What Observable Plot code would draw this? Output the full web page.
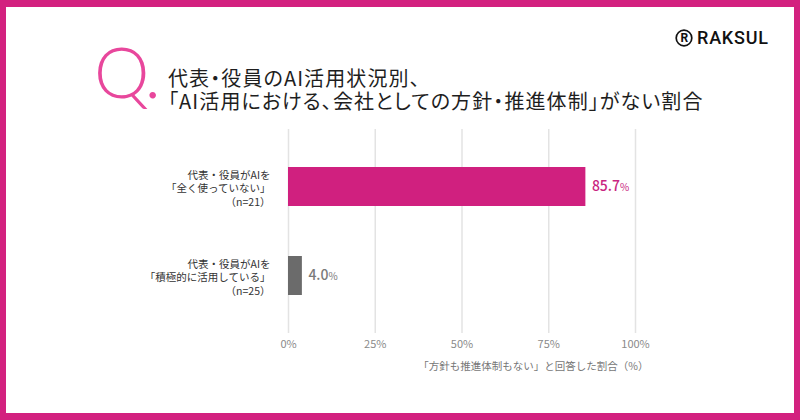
<!DOCTYPE html>
<html lang="ja">
<head>
<meta charset="utf-8">
<script src="https://cdn.jsdelivr.net/npm/d3@7"></script>
<script src="https://cdn.jsdelivr.net/npm/@observablehq/plot@0.6"></script>
<style>
  html, body { margin: 0; padding: 0; background: #fff; }
  #card { position: relative; width: 800px; height: 420px; background: #d3217f; overflow: hidden;
          font-family: "Noto Sans CJK JP", "Noto Sans", sans-serif; }
  #sheet { position: absolute; left: 6px; top: 7px; width: 788px; height: 406px; background: #fff; }
  #q { position: absolute; left: 94px; top: 36px; font-family: Lato, "Open Sans", sans-serif; font-weight: 300;
       font-size: 70px; line-height: 1; color: #e8479c; letter-spacing: -3px; }
  #title { position: absolute; left: 168px; top: 66px; font-size: 20px; line-height: 23px; font-weight: 400;
           color: #1e1e1e; white-space: nowrap; font-feature-settings: "palt" 1; letter-spacing: 1.1px; }
  #logo { position: absolute; left: 675px; top: 27px; display: flex; align-items: center; gap: 4px; }
  #logo span { font-family: Roboto, "Liberation Sans", sans-serif; font-weight: 500; font-size: 18px;
               letter-spacing: 0.8px; color: #111; }
  #chart { position: absolute; left: 0; top: 120px; }
</style>
</head>
<body>
<div id="card">
  <div id="sheet"></div>
  <div id="q">Q.</div>
  <div id="title">代表・役員のAI活用状況別、<br>「AI活用における、会社としての方針・推進体制」がない割合</div>
  <div id="logo">
    <svg width="18" height="18" viewBox="0 0 18 18">
      <circle cx="9" cy="9" r="7.8" fill="none" stroke="#111" stroke-width="1.7"/>
      <text x="9.4" y="13.4" text-anchor="middle" font-family="Roboto, sans-serif" font-weight="700" font-size="12" fill="#111">R</text>
    </svg>
    <span>RAKSUL</span>
  </div>
  <div id="chart"></div>
</div>
<script>
// Respondent groups (y categories) and the share answering "no policy and no promotion structure"
const groups = [
  "代表・役員がAIを\n「全く使っていない」\n（n=21）",
  "代表・役員がAIを\n「積極的に活用している」\n（n=25）"
];
const shares = [85.7, 4.0];
const xTicks = [0, 25, 50, 75, 100];
const xTitle = "「方針も推進体制もない」と回答した割合（%）";

const rows = groups.map((group, i) => ({group, share: shares[i]}));

const chart = Plot.plot({
  width: 800,
  height: 260,
  marginLeft: 288,
  marginRight: 165,
  marginTop: 9,
  marginBottom: 47,
  style: {fontFamily: "'Noto Sans CJK JP', 'Noto Sans', sans-serif", fontSize: "11px", color: "#333", background: "transparent"},
  x: {domain: [0, 100]},
  y: {domain: groups, paddingInner: 0.567, paddingOuter: 0.417, axis: null},
  color: {domain: groups, range: ["#d0207f", "#6b6b6b"]},
  marks: [
    Plot.ruleX(xTicks, {stroke: "#e3e3e3", strokeWidth: 1.5}),
    Plot.barX(rows, {x: "share", y: "group", fill: "group"}),
    Plot.axisX(xTicks, {tickSize: 0, tickPadding: 7, tickFormat: d => d + "%", fill: "#8a8a8a", fontSize: 11, label: null}),
    Plot.text(rows, {
      x: "share", y: "group", text: d => d.share.toFixed(1) + "%",
      dx: 6, textAnchor: "start", fontSize: 14, fontWeight: 500,
      fill: (d, i) => i === 0 ? "#c92480" : "#7a7a7a"
    }),
    Plot.text(rows, {
      y: "group", text: "group", frameAnchor: "left", dx: -18, dy: 1,
      textAnchor: "end", lineHeight: 1.33, fontSize: 10.5, fill: "#333"
    }),
    Plot.text([xTitle], {
      frameAnchor: "bottom-right", dx: 13, dy: 36, textAnchor: "end",
      fontSize: 10.5, fill: "#777"
    })
  ]
});

// Render the percent sign of the value labels in a smaller, lighter type
d3.select(chart).selectAll("text").each(function () {
  const t = this.textContent;
  const m = /^(\d+\.\d)%$/.exec(t);
  if (!m) return;
  const sel = d3.select(this);
  sel.text("");
  sel.append("tspan").text(m[1]);
  sel.append("tspan").attr("font-size", 10).attr("font-weight", 400).text("%");
});

document.getElementById("chart").appendChild(chart);
</script>
</body>
</html>
